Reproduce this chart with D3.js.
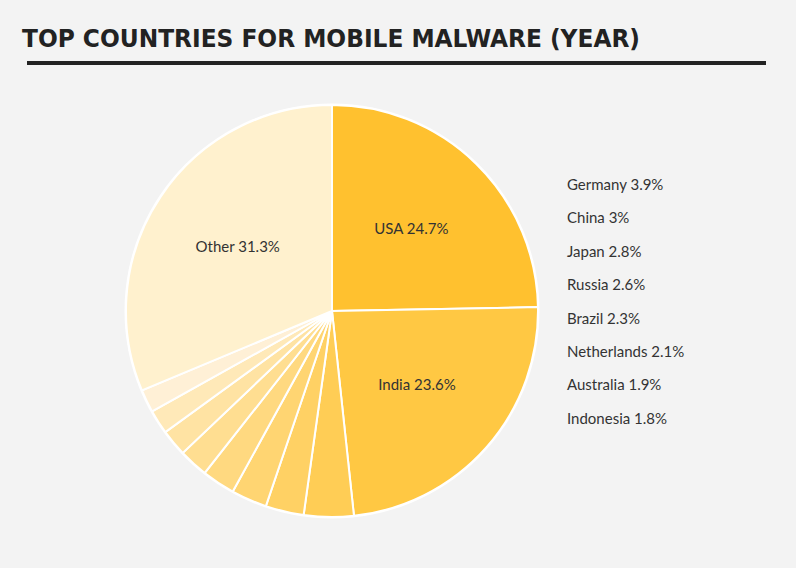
<!DOCTYPE html><html><head><meta charset="utf-8"><script src="https://cdn.jsdelivr.net/npm/d3@7"></script>
<style>body{margin:0;background:#f3f3f3}</style></head><body><svg id="c" width="796" height="568"></svg>
<script>
const countries=["USA","India","Germany","China","Japan","Russia","Brazil","Netherlands","Australia","Indonesia","Other"];
const values=[24.7,23.6,3.9,3,2.8,2.6,2.3,2.1,1.9,1.8,31.3];
const colors=["#FFC12F","#FFC843","#FFCD55","#FFD164","#FFD572","#FFD980","#FFDE91","#FFE3A3","#FFE9B8","#FFF0D6","#FFF1CE"];
const svg=d3.select("#c");
svg.append("rect").attr("width",796).attr("height",568).attr("fill","#f3f3f3");
svg.append("text").attr("x",22).attr("y",47).attr("font-family","DejaVu Sans Condensed").attr("font-weight","bold")
 .attr("font-size",24).attr("fill","#222").attr("textLength",618).attr("lengthAdjust","spacingAndGlyphs").text("TOP COUNTRIES FOR MOBILE MALWARE (YEAR)");
svg.append("rect").attr("x",27).attr("y",61).attr("width",739).attr("height",4).attr("fill","#222");
const cx=332,cy=311,r=206;
const g=svg.append("g").attr("transform",`translate(${cx},${cy})`);
const pie=d3.pie().sort(null).value(d=>d)(values);
const arc=d3.arc().innerRadius(0).outerRadius(r);
g.append("circle").attr("r",r+1.5).attr("fill","#fff");
g.selectAll("path").data(pie).join("path").attr("d",arc).attr("fill",(d,i)=>colors[i]).attr("stroke","#fff").attr("stroke-width",2);
const lab=d3.arc().innerRadius(r*0.55).outerRadius(r*0.55);
const fmt=i=>countries[i]+" "+values[i]+"%";
[0,1,10].forEach(i=>{const c=lab.centroid(pie[i]);
 g.append("text").attr("x",c[0]).attr("y",c[1]).attr("text-anchor","middle").attr("dominant-baseline","middle")
 .attr("font-family","Lato, sans-serif").attr("font-size",15).attr("fill","#333").text(fmt(i));});
const ly=d3.scaleLinear().domain([2,9]).range([186,420]);
d3.range(2,10).forEach(i=>svg.append("text").attr("x",567).attr("y",ly(i)).attr("dominant-baseline","middle")
 .attr("font-family","Lato, sans-serif").attr("font-size",15).attr("fill","#333").text(fmt(i)));
</script></body></html>
